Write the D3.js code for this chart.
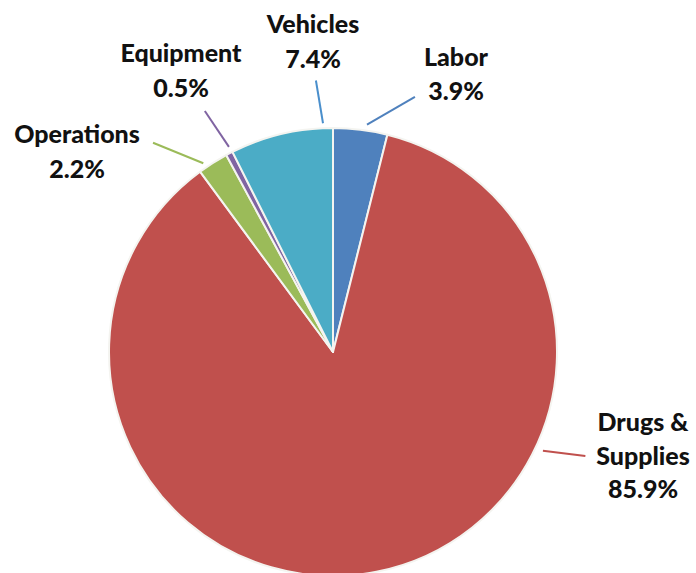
<!DOCTYPE html>
<html>
<head>
<meta charset="utf-8">
<script src="https://cdn.jsdelivr.net/npm/d3@7"></script>
<style>
  body { margin: 0; background: #fff; }
  text { font-family: Lato, "DejaVu Sans", sans-serif; font-weight: 900; fill: #111; }
</style>
</head>
<body>
<svg></svg>
<script>
var categories = ["Labor", "Drugs & Supplies", "Operations", "Equipment", "Vehicles"];
var shares = [3.9, 85.9, 2.2, 0.5, 7.4];
var labelLines = [["Labor", "3.9%"], ["Drugs &", "Supplies", "85.9%"], ["Operations", "2.2%"], ["Equipment", "0.5%"], ["Vehicles", "7.4%"]];

var sliceColors = ["#4f81bd", "#c0504d", "#9bbb59", "#8064a2", "#4bacc6"];

// hand placed leaders: angle (deg, clockwise from top) and radius of both ends
var leaders = [
  {a1: 8.5, r1: 230, a2: 17.8, r2: 268},
  {a1: 115.2, r1: 232, a2: 112.4, r2: 273},
  {a1: -34.5, r1: 229, a2: -40.7, r2: 276},
  {a1: -26.9, r1: 230, a2: -28.0, r2: 273},
  {a1: -2.5, r1: 229, a2: -3.6, r2: 272}
];
// label anchor (centre of text) and first baseline, relative to pie centre
var labelPos = [
  {dx: 123, dy: -286, lh: 34},
  {dx: 310, dy: 79, lh: 33.5},
  {dx: -256, dy: -209, lh: 35},
  {dx: -152, dy: -290, lh: 35},
  {dx: -20, dy: -319, lh: 35}
];

var width = 696, height = 573;
var cx = 333, cy = 352, radius = 224;

var svg = d3.select("svg")
  .attr("width", width)
  .attr("height", height);

var data = categories.map((c, i) => ({name: c, value: shares[i], i: i}));

var pie = d3.pie()
  .sort(null)
  .value(d => d.value);

var arc = d3.arc()
  .innerRadius(0)
  .outerRadius(radius);

var chart = svg.append("g")
  .attr("transform", "translate(" + cx + "," + cy + ")");

chart.selectAll(".slice")
  .data(pie(data))
  .enter()
  .append("path")
    .classed("slice", true)
    .attr("d", arc)
    .attr("fill", d => sliceColors[d.data.i])
    .attr("stroke", "#f4f4f0")
    .attr("stroke-width", 2)
    .attr("stroke-linejoin", "round");

function polar(a, r) {
  var t = a * Math.PI / 180;
  return [r * Math.sin(t), -r * Math.cos(t)];
}

chart.selectAll(".leader")
  .data(leaders)
  .enter()
  .append("line")
    .classed("leader", true)
    .attr("x1", d => polar(d.a1, d.r1)[0])
    .attr("y1", d => polar(d.a1, d.r1)[1])
    .attr("x2", d => polar(d.a2, d.r2)[0])
    .attr("y2", d => polar(d.a2, d.r2)[1])
    .attr("stroke", (d, i) => i === 4 ? "#4a8fcc" : sliceColors[i])
    .attr("stroke-width", 2);

var labels = chart.selectAll(".label")
  .data(labelLines)
  .enter()
  .append("text")
    .classed("label", true)
    .attr("text-anchor", "middle")
    .style("font-size", "25px")
    .attr("transform", (d, i) => "translate(" + labelPos[i].dx + "," + labelPos[i].dy + ")");

labels.each(function(lines, i) {
  d3.select(this).selectAll("tspan")
    .data(lines)
    .enter()
    .append("tspan")
      .attr("x", 0)
      .attr("y", (d, j) => j * labelPos[i].lh)
      .text(d => d);
});
</script>
</body>
</html>
